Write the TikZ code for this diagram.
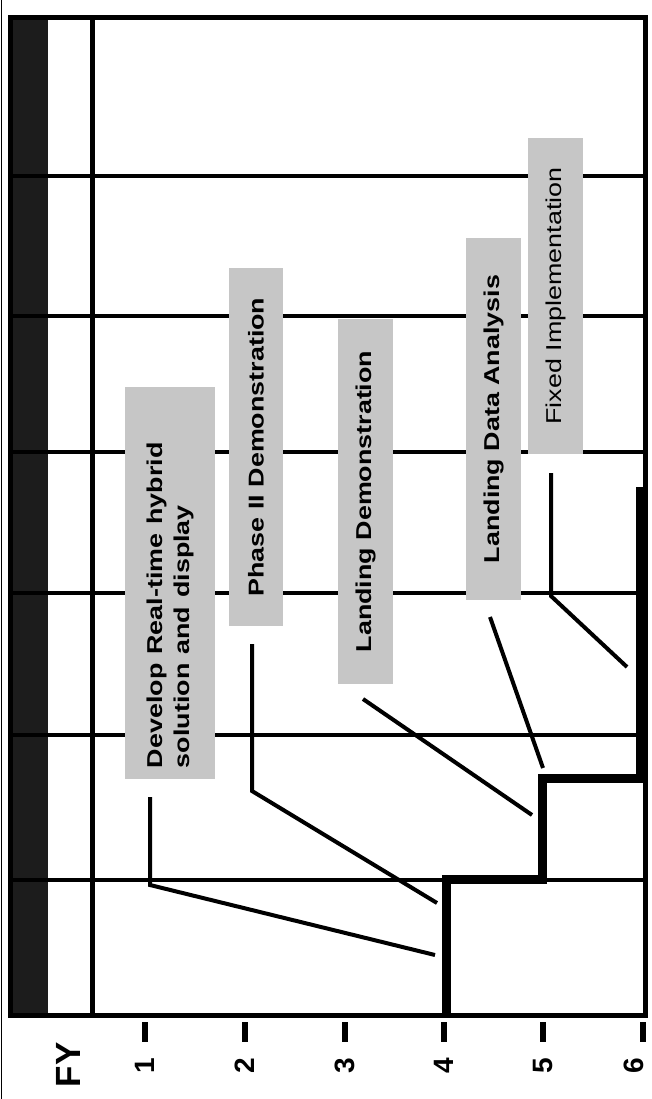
\documentclass[tikz,border=0pt]{standalone}
\usepackage{fontspec}
\setmainfont{Liberation Sans}
\definecolor{bandDark}{HTML}{1C1C1C}
\definecolor{taskFill}{HTML}{C6C6C6}

\begin{document}
\begin{tikzpicture}[
  x=1pt, y=-1pt,
  frame/.style={line width=5pt, black},
  gridline/.style={line width=4pt, black},
  task/.style={fill=taskFill, rotate=90, xscale=1.25, inner sep=0pt, align=center,
    minimum height=55pt, font=\fontsize{21.5}{27}\selectfont\bfseries},
  leader/.style={line width=4pt, black, line join=miter},
  stair/.style={line width=9pt, black, line join=miter},
  yeartick/.style={line width=6pt, black},
  yearlbl/.style={rotate=90, inner sep=0pt, font=\fontsize{28}{30}\selectfont\bfseries},
]
\useasboundingbox (0,0) rectangle (652,1099);

% page edge
\draw[line width=1.5pt] (1.5,0) -- (1.5,1099);

% dark band and grid
\fill[bandDark] (10,18) rectangle (48,1015);
\foreach \y in {176,316,452,593,735,880}
  \draw[gridline] (8,\y) -- (645,\y);
\draw[frame] (92,18) -- (92,1015);
\draw[frame] (10,18) rectangle (645,1015);

% Task boxes
\node[task, minimum height=90pt, text width=296pt, align=left, inner xsep=9pt] (dev) at (170,583)
  {Develop Real-time hybrid\\solution and display};
\node[task, minimum width=286pt, minimum height=54pt] (phase) at (256,447) {Phase II Demonstration};
\node[task, minimum width=292pt] (landdemo) at (365.5,501.5) {Landing Demonstration};
\node[task, minimum width=290pt] (landdata) at (493.5,419) {Landing Data Analysis};
\node[task, minimum width=253pt, font=\fontsize{21.5}{27}\selectfont] (fixed) at (555.5,296) {Fixed Implementation};

% Schedule steps
\coordinate (s0) at (446,1013);
\coordinate (s1) at (446,879);
\coordinate (s2) at (542,879);
\coordinate (s3) at (542,778);
\coordinate (s4) at (640,778);
\coordinate (s5) at (640,487);
\draw[stair] (s0) -- (s1) -- (s2) -- (s3) -- (s4) -- (s5);

% Leaders from boxes to steps
\coordinate (devA) at (150,797);
\coordinate (devB) at (150,885);
\coordinate (devC) at (435,955);
\coordinate (phaseA) at (252,644);
\coordinate (phaseB) at (252,791);
\coordinate (phaseC) at (437,903);
\coordinate (landdemoA) at (363,699);
\coordinate (landdemoB) at (532,815);
\coordinate (landdataA) at (490,617);
\coordinate (landdataB) at (543,768);
\coordinate (fixedA) at (551,473);
\coordinate (fixedB) at (551,596);
\coordinate (fixedC) at (627,667);
\draw[leader] (devA) -- (devB) -- (devC);
\draw[leader] (phaseA) -- (phaseB) -- (phaseC);
\draw[leader] (landdemoA) -- (landdemoB);
\draw[leader] (landdataA) -- (landdataB);
\draw[leader] (fixedA) -- (fixedB) -- (fixedC);

% FY axis
\node[rotate=90, inner sep=0pt, font=\fontsize{35}{36}\selectfont\bfseries] (fy) at (68,1065) {FY};
\foreach \x/\n/\lx in {145/1/145,245/2/245,345/3/345,444/4/444,543/5/543,643/6/634}{
  \draw[yeartick] (\x,1022) -- (\x,1042);
  \node[yearlbl] (yr\n) at (\lx,1066) {\n};
}

\end{tikzpicture}
\end{document}
